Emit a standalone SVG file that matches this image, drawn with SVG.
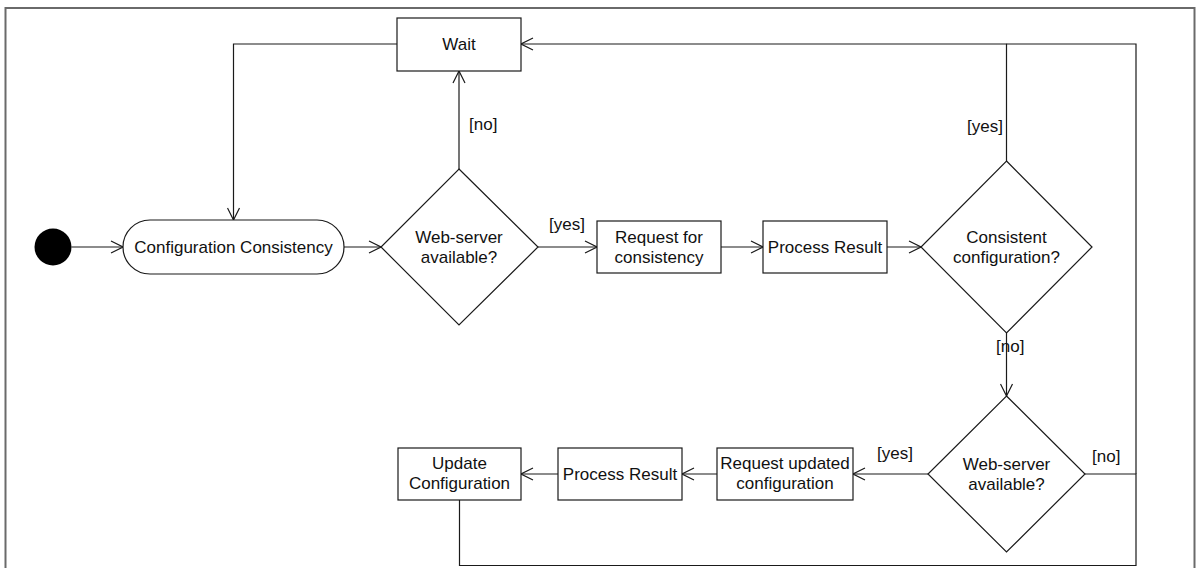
<svg xmlns="http://www.w3.org/2000/svg" width="1196" height="568" viewBox="0 0 1196 568">
<defs>
<style>
.frame{fill:none;stroke:#6a6a6a;stroke-width:2}
.box{fill:#fff;stroke:#1a1a1a;stroke-width:1.2}
.edge{fill:none;stroke:#1a1a1a;stroke-width:1.2}
text{font-family:"Liberation Sans",Arial,sans-serif;font-size:17px;fill:#111}
.c{text-anchor:middle}
</style>
<marker id="arr" viewBox="0 0 14 14" refX="13" refY="7" markerWidth="14" markerHeight="14" markerUnits="userSpaceOnUse" orient="auto">
<path d="M1,1 L13,7 L1,13" fill="none" stroke="#1a1a1a" stroke-width="1.2"/>
</marker>
</defs>
<rect width="1196" height="568" fill="#fff"/>
<rect class="frame" x="5.5" y="8" width="1189" height="570"/>
<g id="connectors">
<path class="edge" d="M71.5,247 H123" marker-end="url(#arr)"/>
<path class="edge" d="M344,247 H381" marker-end="url(#arr)"/>
<path class="edge" d="M459,169 V71" marker-end="url(#arr)"/>
<path class="edge" d="M397,44 H233.5 V220" marker-end="url(#arr)"/>
<path class="edge" d="M538,247 H597" marker-end="url(#arr)"/>
<path class="edge" d="M721,247 H763" marker-end="url(#arr)"/>
<path class="edge" d="M887,247 H921" marker-end="url(#arr)"/>
<path class="edge" d="M1006.5,161 V44 H521" marker-end="url(#arr)"/>
<path class="edge" d="M1006.5,44 H1136 V474"/>
<path class="edge" d="M1006.5,333 V396" marker-end="url(#arr)"/>
<path class="edge" d="M928,474 H853" marker-end="url(#arr)"/>
<path class="edge" d="M717,474 H682" marker-end="url(#arr)"/>
<path class="edge" d="M558,474 H521" marker-end="url(#arr)"/>
<path class="edge" d="M1085,474 H1136 V565.5 H459.5 V500"/>
<text x="469" y="130">[no]</text>
<text x="549" y="230">[yes]</text>
<text x="1003" y="132" text-anchor="end">[yes]</text>
<text x="996" y="352">[no]</text>
<text x="877" y="459">[yes]</text>
<text x="1092" y="462">[no]</text>
</g>
<g id="start"><circle cx="53" cy="247" r="18.5" fill="#000"/></g>
<g id="wait"><rect class="box" x="397" y="18" width="124" height="53"/><text class="c" x="459" y="50">Wait</text></g>
<g id="config-consistency"><rect class="box" x="123" y="220" width="221" height="54" rx="27" ry="27"/><text class="c" x="233.5" y="253">Configuration Consistency</text></g>
<g id="webserver1"><polygon class="box" points="459,169 538,247 459,325 381,247"/><text class="c" x="459" y="243">Web-server</text><text class="c" x="459" y="263">available?</text></g>
<g id="request-consistency"><rect class="box" x="597" y="221" width="124" height="52"/><text class="c" x="659" y="243">Request for</text><text class="c" x="659" y="263">consistency</text></g>
<g id="process-result1"><rect class="box" x="763" y="221" width="124" height="52"/><text class="c" x="825" y="253">Process Result</text></g>
<g id="consistent"><polygon class="box" points="1006.5,161 1092,247 1006.5,333 921,247"/><text class="c" x="1006.5" y="243">Consistent</text><text class="c" x="1006.5" y="263">configuration?</text></g>
<g id="webserver2"><polygon class="box" points="1006.5,396 1085,474 1006.5,552 928,474"/><text class="c" x="1006.5" y="470">Web-server</text><text class="c" x="1006.5" y="490">available?</text></g>
<g id="request-updated"><rect class="box" x="717" y="448" width="136" height="52"/><text class="c" x="785" y="469">Request updated</text><text class="c" x="785" y="489">configuration</text></g>
<g id="process-result2"><rect class="box" x="558" y="448" width="124" height="52"/><text class="c" x="620" y="480">Process Result</text></g>
<g id="update-config"><rect class="box" x="398" y="448" width="123" height="52"/><text class="c" x="459.5" y="469">Update</text><text class="c" x="459.5" y="489">Configuration</text></g>
</svg>
